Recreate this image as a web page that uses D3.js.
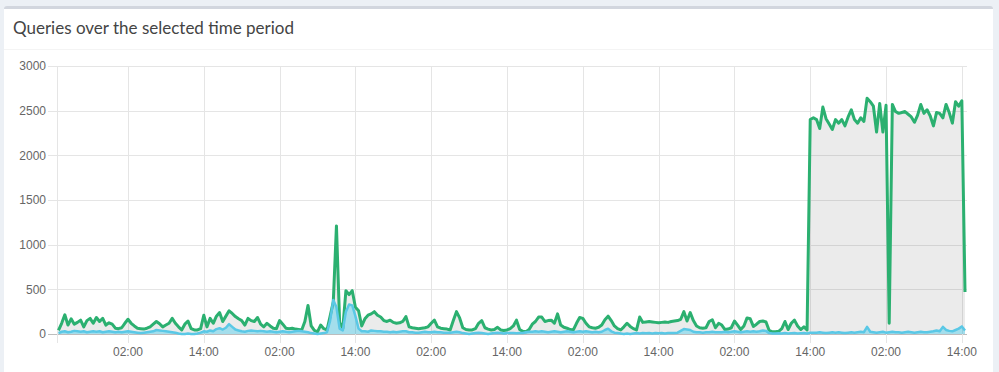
<!DOCTYPE html>
<html>
<head>
<meta charset="utf-8">
<script src="https://cdn.jsdelivr.net/npm/d3@7"></script>
<style>
  body { margin: 0; background: #ecf0f5; }
  svg { display: block; }
</style>
</head>
<body>
<div id="chart"></div>
<script>
(function() {

    var width = 999, height = 372;

    // 30 minute buckets, first one at 15:00
    var startTime = new Date(2023, 2, 10, 15, 0);
    var stepMinutes = 30;

    // total queries per bucket
    var totalQueries = [
        40,120,215,100,170,110,130,155,80,150,
        175,120,185,140,175,100,125,110,65,60,
        70,120,165,120,90,65,60,55,65,80,
        110,140,115,80,100,120,175,120,80,45,
        110,145,60,45,45,60,210,80,175,120,
        200,240,140,200,260,230,195,170,150,100,
        175,150,140,185,110,80,120,90,65,60,
        150,110,65,60,65,55,50,45,140,320,
        90,40,25,100,60,45,200,360,1210,130,
        60,485,440,485,300,260,90,170,210,225,
        250,210,190,150,140,155,130,120,125,140,
        195,80,70,65,60,65,70,80,120,155,
        80,65,60,55,45,150,250,180,70,50,
        45,45,60,120,150,70,55,45,50,75,
        45,40,45,60,90,155,50,30,25,50,
        110,140,190,190,140,150,155,120,225,100,
        75,65,50,45,120,185,175,120,80,70,
        65,75,100,160,200,150,90,60,45,80,
        120,85,60,45,190,130,135,140,135,130,
        125,130,135,130,140,145,150,165,250,145,
        240,150,90,70,65,70,140,160,70,120,
        100,50,55,70,145,100,50,90,180,170,
        85,110,140,145,135,40,25,25,30,60,
        140,50,120,155,90,50,80,45,2400,2420,
        2400,2300,2540,2410,2350,2290,2400,2360,2400,2330,
        2430,2510,2400,2360,2420,2380,2640,2600,2550,2260,
        2580,2260,2560,120,2570,2490,2470,2480,2490,2460,
        2430,2370,2450,2570,2470,2510,2440,2330,2480,2470,
        2420,2570,2480,2360,2600,2550,2610,470
    ];

    // blocked queries per bucket
    var blockedQueries = [
        10,25,30,20,25,35,30,25,30,20,
        25,30,25,30,20,25,30,25,20,25,
        20,25,30,25,20,15,10,15,20,25,
        30,45,40,35,30,25,20,15,5,0,
        0,5,0,0,5,15,30,25,40,30,
        55,65,50,70,110,80,50,40,30,25,
        35,40,35,30,35,30,25,30,25,20,
        25,30,25,20,25,30,35,30,25,20,
        10,5,0,5,10,20,150,380,300,60,
        40,250,330,320,200,60,30,30,25,40,
        35,30,30,25,25,20,25,20,25,30,
        30,20,20,15,15,20,25,20,20,25,
        20,20,15,15,15,20,25,20,10,5,
        0,5,10,15,10,5,0,5,10,15,
        10,5,10,10,10,8,10,12,20,25,
        25,30,25,30,25,20,25,30,25,20,
        25,30,25,20,25,30,25,30,25,20,
        25,20,25,45,60,30,15,10,5,0,
        5,0,5,10,5,10,8,10,5,10,
        8,10,5,10,10,10,15,35,55,50,
        45,25,20,20,15,20,20,25,20,20,
        20,25,20,25,30,25,20,25,30,25,
        30,25,30,40,35,10,5,5,8,5,
        10,5,8,10,5,8,10,5,15,15,
        15,20,15,10,15,20,15,20,15,10,
        15,20,15,20,25,20,80,25,20,15,
        20,25,15,20,25,20,20,15,20,25,
        20,15,20,25,20,20,25,30,40,30,
        80,45,35,30,45,60,85,40
    ];

    var yTicks = [0, 500, 1000, 1500, 2000, 2500, 3000];
    var tickHours = [2, 14];

    var data = totalQueries.map(function(v, i) {
        return {
            time: d3.timeMinute.offset(startTime, i * stepMinutes),
            total: v,
            blocked: blockedQueries[i]
        };
    });

    var svg = d3.select("#chart")
        .append("svg")
        .attr("width", width)
        .attr("height", height);

    // box
    svg.append("rect")
        .attr("x", 4).attr("y", 6)
        .attr("width", 989).attr("height", 380)
        .attr("rx", 3)
        .attr("fill", "#d2d6de");
    svg.append("rect")
        .attr("x", 4).attr("y", 9)
        .attr("width", 989).attr("height", 380)
        .attr("fill", "#fff");
    svg.append("line")
        .attr("x1", 4).attr("x2", 993)
        .attr("y1", 49.5).attr("y2", 49.5)
        .attr("stroke", "#f4f4f4");
    svg.append("text")
        .attr("x", 13).attr("y", 34)
        .attr("font-family", "'Source Sans Pro', Lato, 'Open Sans', sans-serif")
        .attr("font-size", 17)
        .attr("fill", "#444")
        .text("Queries over the selected time period");

    var plot = {left: 57, right: 965, top: 66, bottom: 334};

    var x = d3.scaleTime()
        .domain(d3.extent(data, function(d) { return d.time; }))
        .range([plot.left + 1.5, plot.right]);

    var y = d3.scaleLinear()
        .domain([0, 3000])
        .range([plot.bottom, plot.top]);

    var xTickValues = d3.timeHour.range(data[0].time, data[data.length - 1].time)
        .filter(function(d) { return tickHours.indexOf(d.getHours()) >= 0 && d.getMinutes() === 0; });

    // grid
    var grid = svg.append("g").attr("class", "grid");
    grid.selectAll(".hgrid")
        .data(yTicks)
        .enter().append("line")
        .attr("x1", plot.left - 9).attr("x2", plot.right + 2)
        .attr("y1", function(d) { return Math.round(y(d)) + 0.5; })
        .attr("y2", function(d) { return Math.round(y(d)) + 0.5; })
        .attr("stroke", function(d) { return d === 0 ? "#bdbdbd" : "#e5e5e5"; });
    grid.selectAll(".vgrid")
        .data(xTickValues)
        .enter().append("line")
        .attr("x1", function(d) { return Math.round(x(d)) + 0.5; })
        .attr("x2", function(d) { return Math.round(x(d)) + 0.5; })
        .attr("y1", plot.top).attr("y2", plot.bottom + 9)
        .attr("stroke", "#e5e5e5");
    grid.append("line")
        .attr("x1", plot.left + 0.5).attr("x2", plot.left + 0.5)
        .attr("y1", plot.top).attr("y2", plot.bottom + 9)
        .attr("stroke", "#e5e5e5");

    // areas + lines
    var totalArea = d3.area()
        .x(function(d) { return x(d.time); })
        .y0(y(0))
        .y1(function(d) { return y(d.total); });
    var blockedArea = d3.area()
        .x(function(d) { return x(d.time); })
        .y0(y(0))
        .y1(function(d) { return y(d.blocked); });
    var totalLine = d3.line()
        .x(function(d) { return x(d.time); })
        .y(function(d) { return y(d.total); });
    var blockedLine = d3.line()
        .x(function(d) { return x(d.time); })
        .y(function(d) { return y(d.blocked); });

    svg.append("path")
        .datum(data)
        .attr("d", totalArea)
        .attr("fill", "rgba(0,0,0,0.08)");
    svg.append("path")
        .datum(data)
        .attr("d", blockedArea)
        .attr("fill", "rgba(0,192,239,0.3)");
    svg.append("path")
        .datum(data)
        .attr("d", totalLine)
        .attr("fill", "none")
        .attr("stroke", "#2bb070")
        .attr("stroke-width", 3)
        .attr("stroke-linejoin", "round");
    svg.append("path")
        .datum(data)
        .attr("d", blockedLine)
        .attr("fill", "none")
        .attr("stroke", "#5ac8e6")
        .attr("stroke-width", 2.5)
        .attr("stroke-linejoin", "round");

    // axes labels
    var tickFont = "'Helvetica Neue', Helvetica, Arial, 'Liberation Sans', sans-serif";
    svg.selectAll(".ylabel")
        .data(yTicks)
        .enter().append("text")
        .attr("class", "ylabel")
        .attr("x", plot.left - 11)
        .attr("y", function(d) { return y(d); })
        .attr("dy", "0.35em")
        .attr("text-anchor", "end")
        .attr("font-family", tickFont)
        .attr("font-size", 12)
        .attr("fill", "#666")
        .text(function(d) { return d; });

    var fmt = d3.timeFormat("%H:%M");
    svg.selectAll(".xlabel")
        .data(xTickValues)
        .enter().append("text")
        .attr("class", "xlabel")
        .attr("x", function(d) { return x(d); })
        .attr("y", plot.bottom + 18)
        .attr("dy", "0.35em")
        .attr("text-anchor", "middle")
        .attr("font-family", tickFont)
        .attr("font-size", 12)
        .attr("fill", "#666")
        .text(function(d) { return fmt(d); });

})();
</script>
</body>
</html>
